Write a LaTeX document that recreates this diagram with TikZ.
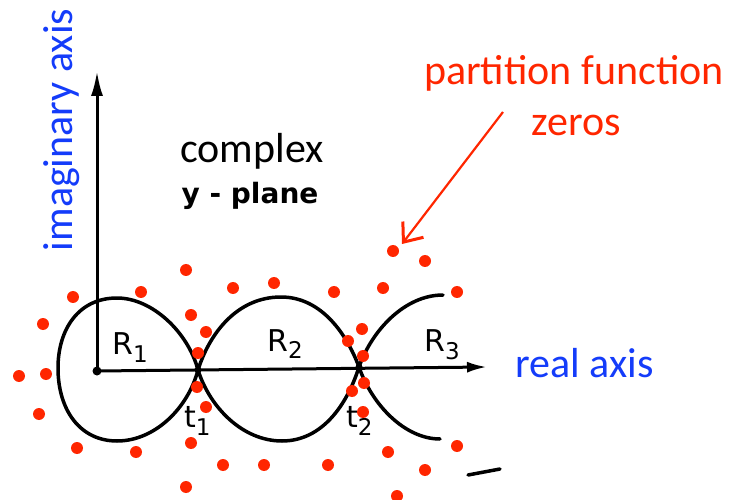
\documentclass[tikz,border=0pt]{standalone}
\usepackage{fontspec}
\setmainfont{Carlito}
\newfontfamily\handfont{DejaVu Sans}
\usetikzlibrary{arrows.meta}
\definecolor{zred}{RGB}{255,38,0}
\definecolor{zblue}{RGB}{20,60,250}
\tikzset{
  bigtext/.style={inner sep=0pt, font=\fontsize{42}{50}\selectfont},
  handlbl/.style={inner sep=0pt, anchor=base west, font=\handfont\fontsize{30}{32}\selectfont},
  curve/.style={line width=3.5pt, line cap=round, line join=round},
  axisline/.style={line width=3pt},
  zerodot/.style={fill=zred},
}
\newcommand{\subsc}[1]{\raisebox{-8pt}{\fontsize{23}{23}\selectfont #1}}
\begin{document}
\begin{tikzpicture}[x=1pt,y=-1pt]
\useasboundingbox (0,0) rectangle (732,500);

% texts
\node[bigtext, anchor=base] (complex) at (252,163) {complex};
\node[inner sep=0pt, anchor=base, font=\handfont\bfseries\fontsize{28}{30}\selectfont] (yplane) at (250,204) {y - plane};
\node[bigtext, zred, anchor=base] (pf) at (574,85) {partition function};
\node[bigtext, zred, anchor=base] (zeros) at (576,136) {zeros};
\node[bigtext, zblue, anchor=base west] (real) at (515,377) {real axis};
\node[bigtext, zblue, rotate=90, anchor=base] (imag) at (72,130) {imaginary axis};

% region labels
\node[handlbl] (R1) at (112,355) {R\subsc{1}};
\node[handlbl] (R2) at (267,351) {R\subsc{2}};
\node[handlbl] (R3) at (424,352) {R\subsc{3}};
\node[handlbl] (T1) at (184,427) {t\subsc{1}};
\node[handlbl] (T2) at (346,427) {t\subsc{2}};

% axes
\coordinate (O) at (97,371);
\coordinate (ytip) at (97,71);
\coordinate (xtip) at (487,367);
\coordinate (t1) at (198,370);
\coordinate (t2) at (359,367);
\draw[axisline, -{Latex[length=25pt,width=12pt]}] (O) -- (ytip);
\draw[axisline, -{Latex[length=20pt,width=11pt]}] (O) -- (xtip);

% curves
\draw[curve] (t1) .. controls (188,332) and (152,298) .. (117,298)
  .. controls (78,298) and (58,330) .. (58,368)
  .. controls (58,410) and (80,441) .. (117,441)
  .. controls (155,441) and (188,408) .. (t1);
\draw[curve] (t1) .. controls (210,332) and (238,297) .. (281,297)
  .. controls (322,297) and (347,335) .. (t2)
  .. controls (347,405) and (322,441) .. (282,441)
  .. controls (243,441) and (210,408) .. (t1);
\coordinate (c3a) at (443,295);
\coordinate (c3b) at (440,439);
\draw[curve] (c3a) .. controls (405,295) and (372,330) .. (t2)
  .. controls (372,405) and (405,439) .. (c3b);
\coordinate (fa) at (468,475);
\coordinate (fb) at (500,469);
\draw[curve] (fa) -- (fb);

% black dots
\fill (O) circle (4.5);
\fill (t1) circle (3.5);
\fill (t2) circle (3.5);

% zeros
\foreach \p in {(186,270),(233,288),(73,297),(141,292),(43,324),(191,315),(206,332),(198,353),(19,376),(46,374),(197,387),(206,407),(39,414),(77,448),(136,452),(191,443),(223,465),(186,487),
(393,251),(425,261),(274,283),(334,292),(383,288),(457,292),(362,329),(348,341),(363,356),(364,383),(352,391),(363,412),(388,452),(457,446),(264,465),(328,465),(425,470),(397,496)}
  \fill[zerodot] \p circle (6);

% arrow
\coordinate (arrS) at (503,112);
\coordinate (arrE) at (402,244);
\draw[zred, line width=2.2pt, -{Straight Barb[length=16pt,width=26pt,line width=3pt]}] (arrS) -- (arrE);
\end{tikzpicture}
\end{document}
